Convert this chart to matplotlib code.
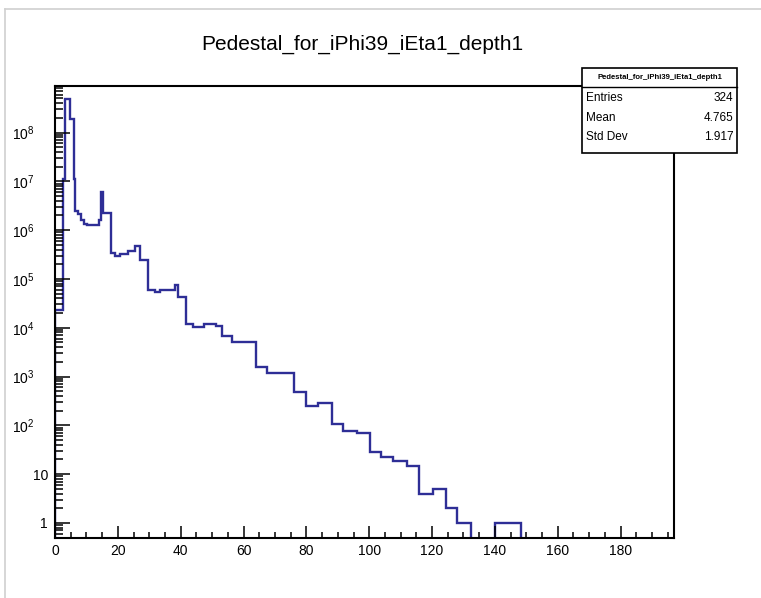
import matplotlib
matplotlib.use('Agg')
import matplotlib.pyplot as plt
import numpy as np
from matplotlib.patches import Rectangle
from matplotlib.lines import Line2D
from matplotlib.ticker import FixedLocator, MultipleLocator, LogLocator, NullFormatter

plt.rcParams['font.family'] = ['Liberation Sans', 'DejaVu Sans']
plt.rcParams['mathtext.default'] = 'regular'

# histogram (bin edges, counts per bin)
bin_edges = [0, 2.5, 3.3, 4.9, 6.0, 6.5, 7.3, 8.4, 9.1, 10.2,
             13.9, 14.7, 15.4, 17.7, 19.1, 20.7, 23.3, 25.5, 27.0, 29.7,
             31.8, 33.4, 38.2, 39.2, 41.8, 44.0, 47.4, 51.2, 53.3, 56.2,
             63.9, 67.5, 76.0, 79.8, 83.8, 88.0, 91.7, 96.1, 100.2, 103.9,
             107.6, 111.9, 115.9, 120.3, 124.4, 128.0, 132.5, 140.0, 148.4]
counts = [2.3e4, 1.14e7, 4.9e8, 1.9e8, 1.14e7, 2.5e6, 2.1e6, 1.6e6, 1.36e6,
          1.26e6, 1.6e6, 6.0e6, 2.2e6, 3.4e5, 2.9e5, 3.3e5, 3.65e5, 4.8e5, 2.5e5,
          5.8e4, 5.4e4, 6.0e4, 7.4e4, 4.3e4, 1.2e4, 1.04e4, 1.21e4, 1.09e4, 6.7e3,
          5.1e3, 1.6e3, 1.2e3, 490, 250, 280, 106, 78, 69, 29,
          22, 19, 15, 4, 5, 2, 1, 0, 1]

title = 'Pedestal_for_iPhi39_iEta1_depth1'
stat_names = ['Entries', 'Mean', 'Std Dev']
stat_values = ['324', '4.765', '1.917']
y_decades = [0, 1, 2, 3, 4, 5, 6, 7, 8]

fig = plt.figure(figsize=(7.61, 5.98), dpi=100)
ax = fig.add_axes([0.0723, 0.1003, 0.8134, 0.7559])

ax.stairs(counts, bin_edges, baseline=0, color='#2e2e96', linewidth=1.7)

ax.set_yscale('log')
ax.set_xlim(0, 197)
ax.set_ylim(0.49, 9.0e8)

ax.xaxis.set_major_locator(MultipleLocator(20))
ax.xaxis.set_minor_locator(MultipleLocator(5))
ax.yaxis.set_major_locator(FixedLocator([10.0**k for k in y_decades]))
ax.yaxis.set_minor_locator(LogLocator(base=10, subs=np.arange(2, 10)))
ax.yaxis.set_minor_formatter(NullFormatter())
ylabels = []
for k in y_decades:
    if k == 0:
        ylabels.append('1')
    elif k == 1:
        ylabels.append('10')
    else:
        ylabels.append('$10^{%d}$' % k)
ax.set_yticklabels(ylabels)

ax.tick_params(axis='both', which='both', direction='in', top=False, right=False,
               width=1.1, labelsize=10)
ax.tick_params(axis='y', which='major', length=11, pad=5)
ax.tick_params(axis='y', which='minor', length=5.5)
ax.tick_params(axis='x', which='major', length=9, pad=4)
ax.tick_params(axis='x', which='minor', length=4.5)

# ROOT puts the power labels further from the axis
for t in ax.yaxis.get_major_ticks()[2:]:
    t.set_pad(15)

for s in ax.spines.values():
    s.set_linewidth(1.5)
    s.set_color('black')

fig.text(0.476, 0.925, title, ha='center', va='center', fontsize=15)

# stats box
bx0, by0, bx1, by1 = 0.7648, 0.7441, 0.9685, 0.8863
fig.add_artist(Rectangle((bx0, by0), bx1 - bx0, by1 - by0, transform=fig.transFigure,
                         facecolor='white', edgecolor='black', linewidth=1.2, zorder=5))
fig.add_artist(Line2D([bx0, bx1], [0.855, 0.855], transform=fig.transFigure,
                      color='black', linewidth=1.0, zorder=6))
fig.text((bx0 + bx1) / 2, 0.8705, title, ha='center', va='center', fontsize=5.5,
         fontweight='bold', zorder=7)
row_y = [0.8356, 0.8032, 0.7714]
for name, val, yy in zip(stat_names, stat_values, row_y):
    fig.text(bx0 + 0.005, yy, name, ha='left', va='center', fontsize=8.5, zorder=7)
    fig.text(bx1 - 0.005, yy, val, ha='right', va='center', fontsize=8.5, zorder=7)

# light border of the screenshot
fig.add_artist(Line2D([5 / 761, 1], [1 - 9 / 598, 1 - 9 / 598], transform=fig.transFigure,
                      color='#d0d0d0', linewidth=1.2))
fig.add_artist(Line2D([5 / 761, 5 / 761], [0, 1 - 9 / 598], transform=fig.transFigure,
                      color='#d0d0d0', linewidth=1.2))

fig.savefig('out.png', dpi=100)
